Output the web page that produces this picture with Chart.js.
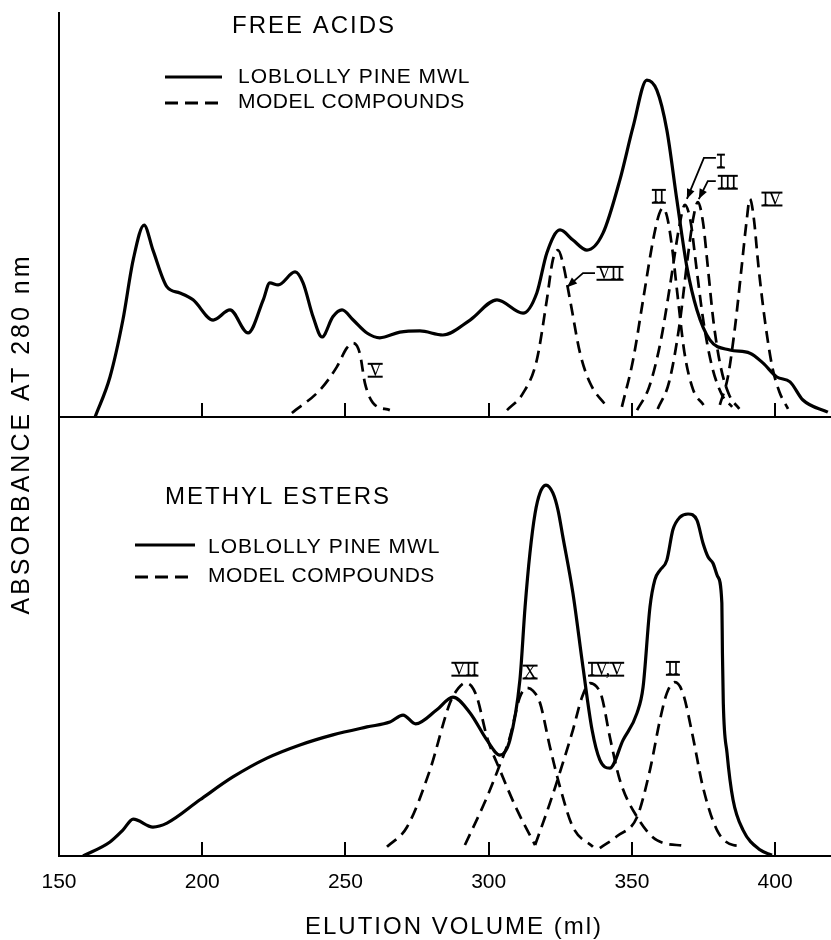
<!DOCTYPE html>
<html><head><meta charset="utf-8">
<script src="https://cdn.jsdelivr.net/npm/chart.js@4.4.1/dist/chart.umd.min.js"></script>
<style>
html,body{margin:0;padding:0;background:#fff;}
#wrap{position:relative;width:831px;height:940px;background:#fff;overflow:hidden;}
#wrap canvas{position:absolute;left:0;top:0;}
</style></head><body>
<div id="wrap">
<canvas id="cEst" width="831" height="940"></canvas>
<canvas id="cAcid" width="831" height="430"></canvas>
</div>
<script>
// ---------- DATA ----------
const tickValues = [150, 200, 250, 300, 350, 400];

// FREE ACIDS panel (relative absorbance, 0-100 = panel height)
const faMwlVol = [162.6,167.8,172.3,175.9,179.7,182.8,187.7,192.2,196.8,203.8,209.7,216.0,221.3,223.6,226.5,232.4,235.2,238.7,241.8,245.6,248.8,252.7,257.5,262.0,269.0,276.0,284.0,293.5,302.9,312.0,316.8,320.3,324.9,329.4,334.3,339.9,345.8,350.4,355.2,358.7,362.2,365.7,369.2,372.7,377.2,384.2,391.2,395.7,400.6,405.2,409.7,418.4];
const faMwlAbs = [0,9.9,24.0,38.9,47.5,41.3,32.2,30.7,29.0,24.0,26.5,20.8,29.0,33.2,32.7,35.9,33.2,24.8,19.8,24.8,26.5,24.0,20.8,19.6,21.0,21.3,20.3,24.0,29.0,25.7,30.7,40.6,46.3,43.8,41.3,45.5,58.7,71.8,83.4,80.9,71.0,53.7,37.1,26.5,19.1,16.6,15.8,13.4,9.9,8.7,4.2,1.2];

const faV_Vol = [231.3,241.1,247.0,250.5,252.7,255.0,256.8,259.6,265.5];
const faV_Abs = [1.0,6.7,12.4,17.1,18.3,15.8,8.4,3.5,1.7];
const faVII_Vol = [306.4,312.0,316.8,320.3,322.4,324.2,325.9,328.4,331.9,335.4,341.3];
const faVII_Abs = [1.7,5.9,14.1,29.0,38.9,41.3,38.1,29.0,15.8,8.4,2.5];
const faII_Vol = [346.5,350.4,353.9,357.4,359.5,360.8,362.3,364.0,366.0,368.3,371.3,375.0];
const faII_Abs = [2.5,14.1,29.0,43.8,50.2,51.7,49.5,42.1,29.7,16.1,6.9,3.0];
const faI_Vol = [351.8,356.0,360.0,363.5,366.5,368.5,370.5,372.5,375.0,378.0,381.5,385.0];
const faI_Abs = [1.7,7.4,18.6,33.4,47.0,52.5,48.3,37.1,23.5,12.4,5.4,2.5];
const faIII_Vol = [359.0,363.0,366.5,369.5,371.5,373.0,374.8,376.5,378.5,381.0,384.0,387.5];
const faIII_Abs = [2.0,8.7,22.3,39.6,49.5,53.2,48.3,37.1,23.5,12.4,5.4,2.0];
const faIV_Vol = [380.7,383.5,386.0,388.3,390.0,391.2,392.5,394.2,396.5,399.0,401.5,404.5];
const faIV_Abs = [3.0,9.9,22.3,37.1,48.3,54.0,49.5,37.1,23.5,12.4,6.2,2.0];

// METHYL ESTERS panel
const meMwlVol = [158.4,167.8,172.3,175.9,182.8,187.7,199.2,210.7,222.6,234.1,245.6,257.5,265.5,270.1,274.5,281.9,287.5,293.5,299.4,303.9,307.4,310.9,312.7,314.4,316.2,317.9,320.0,322.4,324.2,325.9,329.4,332.9,336.1,338.8,342.3,346.9,351.8,353.9,356.3,358.0,359.8,362.2,364.3,366.8,369.6,372.7,374.8,376.6,378.3,380.0,381.4,381.6,381.9,383.2,385.3,388.8,394.7,398.9];
const meMwlAbs = [0,3.2,5.9,8.4,6.6,7.5,12.8,18.0,22.3,25.3,27.6,29.4,30.5,32.1,30.1,33.3,36.2,32.6,26.4,23.0,26.4,40.1,56.7,69.0,78.1,82.7,84.5,82.7,78.8,72.7,59.9,43.1,28.7,21.9,20.0,26.4,32.6,38.5,56.7,62.9,65.1,67.4,74.3,77.2,77.9,76.5,71.3,68.1,66.7,63.6,57.6,46.2,34.9,23.5,12.8,5.9,1.4,0.2];

const meVII_Vol = [264.5,271.5,279.5,286.5,289.5,291.7,294.0,296.0,299.4,303.9,309.9,316.2];
const meVII_Abs = [2.1,6.6,19.6,34.9,38.3,39.4,38.7,36.0,27.1,19.6,10.5,2.5];
const meX_Vol = [291.7,299.4,303.2,307.4,310.9,313.4,315.5,317.9,321.4,324.9,329.4,336.4];
const meX_Abs = [2.5,13.4,19.6,27.1,36.2,38.3,37.6,34.9,24.8,15.7,6.6,2.1];
const meIVV_Vol = [316.2,321.4,325.9,329.4,332.6,335.4,337.5,339.5,342.3,345.8,351.8,358.7,368.5];
const meIVV_Abs = [2.5,12.1,21.2,28.7,36.2,39.4,38.7,36.2,27.1,17.3,8.9,3.6,2.3];
const meII_Vol = [338.8,345.0,351.8,356.3,359.8,362.2,365.0,367.8,371.3,374.8,379.7,385.3,388.8];
const meII_Abs = [1.8,4.6,8.9,19.6,31.0,37.1,39.6,37.1,27.1,15.7,5.9,2.5,2.3];

// ---------- STYLE / LAYOUT ----------
const INK = '#000';
const SANS = '"Liberation Sans", Arial, sans-serif';
const SERIF = '"Liberation Serif", "Times New Roman", serif';
const AXIS_LEFT = 59;

const pts = (xs, ys) => xs.map((x, i) => ({x: x, y: ys[i]}));
const solid = (label, xs, ys) => ({label, data: pts(xs, ys), borderColor: INK, borderWidth: 3.2, pointRadius: 0, fill: false, compound: false});
const dashed = (label, xs, ys) => ({label, data: pts(xs, ys), borderColor: INK, borderWidth: 2.7, borderDash: [12, 7], pointRadius: 0, fill: false, compound: true});

// label placement relative to each model-compound peak (pixels)
const faLabelStyle = {
  'V':   {dx: 22, dy: 27},
  'VII': {dx: 52, dy: 23, leader: [[37,23],[25,23],[9,37]]},
  'II':  {dx: -4, dy: -12},
  'I':   {dx: 36, dy: -44, leader: [[31,-47],[19,-47],[2,-6]]},
  'III': {dx: 30, dy: -20, leader: [[18,-21],[10,-21],[1,-3]]},
  'IV':  {dx: 22, dy: 0}
};
const meLabelStyle = {
  'VII':  {dx: 0, dy: -14},
  'X':    {dx: 3, dy: -16},
  'IV,V': {dx: 16, dy: -14},
  'II':   {dx: -2, dy: -14}
};

function drawText(ctx, t) {
  ctx.save();
  ctx.font = t.size + 'px ' + SANS;
  ctx.fillStyle = INK;
  try { ctx.letterSpacing = (t.spacing || 0) + 'px'; } catch (e) {}
  ctx.textBaseline = 'middle';
  if (t.rotate) {
    ctx.translate(t.x, t.y);
    ctx.rotate(-Math.PI / 2);
    ctx.textAlign = 'center';
    ctx.fillText(t.text, 0, 0);
  } else {
    ctx.textAlign = t.align || 'left';
    ctx.fillText(t.text, t.x, t.y);
  }
  ctx.restore();
}

function drawNumeral(ctx, text, cx, cy) {
  const size = 18, capH = size * 0.66;
  ctx.save();
  ctx.font = size + 'px ' + SERIF;
  ctx.fillStyle = INK; ctx.strokeStyle = INK; ctx.lineWidth = 2;
  ctx.textAlign = 'left'; ctx.textBaseline = 'alphabetic';
  const w = ctx.measureText(text).width;
  const sx = cx - w / 2, base = cy + capH / 2;
  ctx.fillText(text, sx, base);
  let idx = 0;
  text.split(',').forEach(part => {
    const start = text.indexOf(part, idx);
    const off = ctx.measureText(text.slice(0, start)).width;
    const pw = ctx.measureText(part).width;
    [base - capH - 0.3, base + 0.7].forEach(yb => {
      ctx.beginPath(); ctx.moveTo(sx + off - 1, yb); ctx.lineTo(sx + off + pw + 1, yb); ctx.stroke();
    });
    idx = start + part.length;
  });
  ctx.restore();
}

function drawLeader(ctx, px, py, leader) {
  ctx.save();
  ctx.strokeStyle = INK; ctx.fillStyle = INK; ctx.lineWidth = 1.8;
  ctx.beginPath();
  leader.forEach((p, i) => { if (i === 0) ctx.moveTo(px + p[0], py + p[1]); else ctx.lineTo(px + p[0], py + p[1]); });
  ctx.stroke();
  const a = leader[leader.length - 2], b = leader[leader.length - 1];
  const ang = Math.atan2(b[1] - a[1], b[0] - a[0]);
  const tx = px + b[0], ty = py + b[1], L = 10, hw = 4;
  ctx.beginPath();
  ctx.moveTo(tx, ty);
  ctx.lineTo(tx - L * Math.cos(ang) + hw * Math.sin(ang), ty - L * Math.sin(ang) - hw * Math.cos(ang));
  ctx.lineTo(tx - L * Math.cos(ang) - hw * Math.sin(ang), ty - L * Math.sin(ang) + hw * Math.cos(ang));
  ctx.closePath(); ctx.fill();
  ctx.restore();
}

function decorPlugin(cfg) {
  return {
    id: 'decor',
    afterDraw(chart) {
      const ctx = chart.ctx, ca = chart.chartArea, xs = chart.scales.x;
      ctx.save();
      // inward tick marks
      ctx.strokeStyle = INK; ctx.lineWidth = 2;
      tickValues.forEach((v, i) => {
        if (i === 0) return;
        const px = Math.round(xs.getPixelForValue(v));
        ctx.beginPath(); ctx.moveTo(px, ca.bottom); ctx.lineTo(px, ca.bottom - 14); ctx.stroke();
      });
      // legend keys
      cfg.keys.forEach(k => {
        ctx.save();
        ctx.strokeStyle = INK; ctx.lineWidth = 3;
        ctx.setLineDash(k.dash || []);
        ctx.beginPath(); ctx.moveTo(k.x1, k.y); ctx.lineTo(k.x2, k.y); ctx.stroke();
        ctx.restore();
      });
      cfg.texts.forEach(t => drawText(ctx, t));
      // compound labels at the peak of each dashed curve
      chart.data.datasets.forEach((ds, di) => {
        if (!ds.compound) return;
        const st = cfg.labels[ds.label];
        if (!st) return;
        let k = 0;
        ds.data.forEach((p, i) => { if (p.y > ds.data[k].y) k = i; });
        const el = chart.getDatasetMeta(di).data[k];
        drawNumeral(ctx, ds.label, el.x + st.dx, el.y + st.dy);
        if (st.leader) drawLeader(ctx, el.x, el.y, st.leader);
      });
      ctx.restore();
    }
  };
}

function panelOptions(padTop, bottomSize, showLabels) {
  return {
    responsive: false, animation: false, events: [],
    layout: {padding: {top: padTop, left: 0, right: 0, bottom: 0}},
    plugins: {legend: {display: false}, tooltip: {enabled: false}, title: {display: false}},
    elements: {point: {radius: 0}, line: {cubicInterpolationMode: 'monotone', borderCapStyle: 'butt', borderJoinStyle: 'round'}},
    scales: {
      x: {
        type: 'linear', position: 'bottom', min: 150, max: 419.5,
        afterBuildTicks: s => { s.ticks = tickValues.map(v => ({value: v})); },
        afterFit: s => { s.height = bottomSize; },
        grid: {display: false, drawTicks: false},
        border: {display: true, color: INK, width: 2},
        ticks: {display: showLabels, autoSkip: false, maxRotation: 0, color: INK, padding: 14,
                font: {family: SANS, size: 21}}
      },
      y: {
        type: 'linear', position: 'left', min: 0, max: 100,
        afterFit: s => { s.width = AXIS_LEFT; },
        grid: {display: false, drawTicks: false},
        border: {display: true, color: INK, width: 2},
        ticks: {display: false}
      }
    }
  };
}

// ---------- FREE ACIDS (top) ----------
new Chart(document.getElementById('cAcid'), {
  type: 'line',
  data: {datasets: [
    solid('LOBLOLLY PINE MWL', faMwlVol, faMwlAbs),
    dashed('V', faV_Vol, faV_Abs),
    dashed('VII', faVII_Vol, faVII_Abs),
    dashed('II', faII_Vol, faII_Abs),
    dashed('I', faI_Vol, faI_Abs),
    dashed('III', faIII_Vol, faIII_Abs),
    dashed('IV', faIV_Vol, faIV_Abs)
  ]},
  options: panelOptions(13, 430 - 417, false),
  plugins: [decorPlugin({
    labels: faLabelStyle,
    keys: [{x1: 165, x2: 222, y: 77}, {x1: 165, x2: 222, y: 103, dash: [13, 7]}],
    texts: [
      {text: 'FREE ACIDS', x: 232, y: 26, size: 24, spacing: 2},
      {text: 'LOBLOLLY PINE MWL', x: 238, y: 77, size: 21, spacing: 1},
      {text: 'MODEL COMPOUNDS', x: 238, y: 102, size: 21, spacing: 0.5}
    ]
  })]
});

// ---------- METHYL ESTERS (bottom) ----------
new Chart(document.getElementById('cEst'), {
  type: 'line',
  data: {datasets: [
    solid('LOBLOLLY PINE MWL', meMwlVol, meMwlAbs),
    dashed('VII', meVII_Vol, meVII_Abs),
    dashed('X', meX_Vol, meX_Abs),
    dashed('IV,V', meIVV_Vol, meIVV_Abs),
    dashed('II', meII_Vol, meII_Abs)
  ]},
  options: panelOptions(417, 940 - 856, true),
  plugins: [decorPlugin({
    labels: meLabelStyle,
    keys: [{x1: 135, x2: 195, y: 545}, {x1: 135, x2: 195, y: 577, dash: [13, 7]}],
    texts: [
      {text: 'METHYL ESTERS', x: 165, y: 497, size: 24, spacing: 2},
      {text: 'LOBLOLLY PINE MWL', x: 208, y: 547, size: 21, spacing: 1},
      {text: 'MODEL COMPOUNDS', x: 208, y: 576, size: 21, spacing: 0.5},
      {text: 'ELUTION VOLUME (ml)', x: 305, y: 927, size: 24, spacing: 2},
      {text: 'ABSORBANCE AT 280 nm', x: 22, y: 434, size: 25, spacing: 3, rotate: true}
    ]
  })]
});
</script>
</body></html>
